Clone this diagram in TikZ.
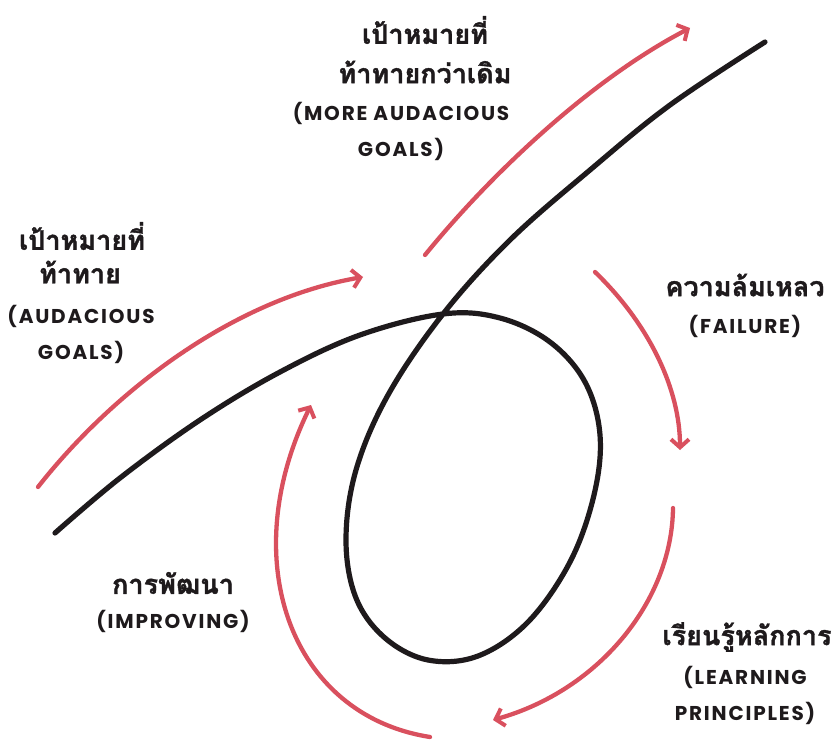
\documentclass[tikz,border=0pt]{standalone}
\usepackage{fontspec}
\usetikzlibrary{arrows.meta}
\newfontfamily\thaifont[Script=Thai,BoldFeatures={FakeBold=1.3}]{Loma}
\newfontfamily\engfont[LetterSpace=9,BoldFont={Poppins Bold}]{Poppins}
\definecolor{rd}{HTML}{D9505E}
\definecolor{bk}{HTML}{1E1A1C}
\begin{document}
\begin{tikzpicture}[x=1pt,y=-1pt,
  blk/.style={draw=bk,line width=5.2pt,line cap=round},
  redarr/.style={draw=rd,line width=4.3pt,line cap=round,-{Straight Barb[length=8pt,width=18pt,line width=4pt]}},
  th/.style={font=\thaifont\bfseries\fontsize{27}{30}\selectfont,text=bk,inner sep=0pt},
  en/.style={font=\engfont\bfseries\fontsize{20}{22}\selectfont,text=bk,inner sep=0pt}]
\useasboundingbox (0,0) rectangle (838,741);
% black loop curve
\draw[blk] plot[smooth,tension=0.6] coordinates {(55,533) (120,478) (200,420) (280,372) (360,335) (443,314) (500,318) (550,342) (585,382) (600,435) (594,495) (570,562) (528,622) (478,656) (428,660) (385,638) (356,598) (346,540) (356,470) (388,395) (443,314) (510,240) (590,170) (670,105) (765,42)};
% red arrows
\coordinate (a1s) at (38,487); \coordinate (a1e) at (363,277);
\draw[redarr] (a1s) .. controls (110,395) and (230,300) .. (a1e);
\coordinate (a2s) at (425,255); \coordinate (a2e) at (690,28);
\draw[redarr] (a2s) .. controls (490,175) and (590,80) .. (a2e);
\coordinate (a3s) at (595,272); \coordinate (a3e) at (680,450);
\draw[redarr] (a3s) .. controls (650,325) and (680,390) .. (a3e);
\coordinate (a4s) at (673,508); \coordinate (a4e) at (493,720);
\draw[redarr] (a4s) .. controls (672,600) and (600,690) .. (a4e);
\coordinate (a5s) at (430,737); \coordinate (a5e) at (311,405);
\draw[redarr] (a5s) .. controls (290,715) and (235,560) .. (a5e);
% labels
\node[th] (t1) at (425,30) {เป้าหมายที่};
\node[th] (t2) at (425,72) {ท้าทายกว่าเดิม};
\node[en] (t3) at (401,113) {(MORE AUDACIOUS};
\node[en] (t4) at (401,149) {GOALS)};
\node[th] (l1) at (82,236) {เป้าหมายที่};
\node[th] (l2) at (80,272) {ท้าทาย};
\node[en] (l3) at (81,316) {(AUDACIOUS};
\node[en] (l4) at (81,352) {GOALS)};
\node[th] (f1) at (745,285) {ความล้มเหลว};
\node[en] (f2) at (745,326) {(FAILURE)};
\node[th] (i1) at (173,583) {การพัฒนา};
\node[en] (i2) at (173,621) {(IMPROVING)};
\node[th] (r1) at (747,637) {เรียนรู้หลักการ};
\node[en] (r2) at (745,677) {(LEARNING};
\node[en] (r3) at (745,713) {PRINCIPLES)};
\end{tikzpicture}
\end{document}
